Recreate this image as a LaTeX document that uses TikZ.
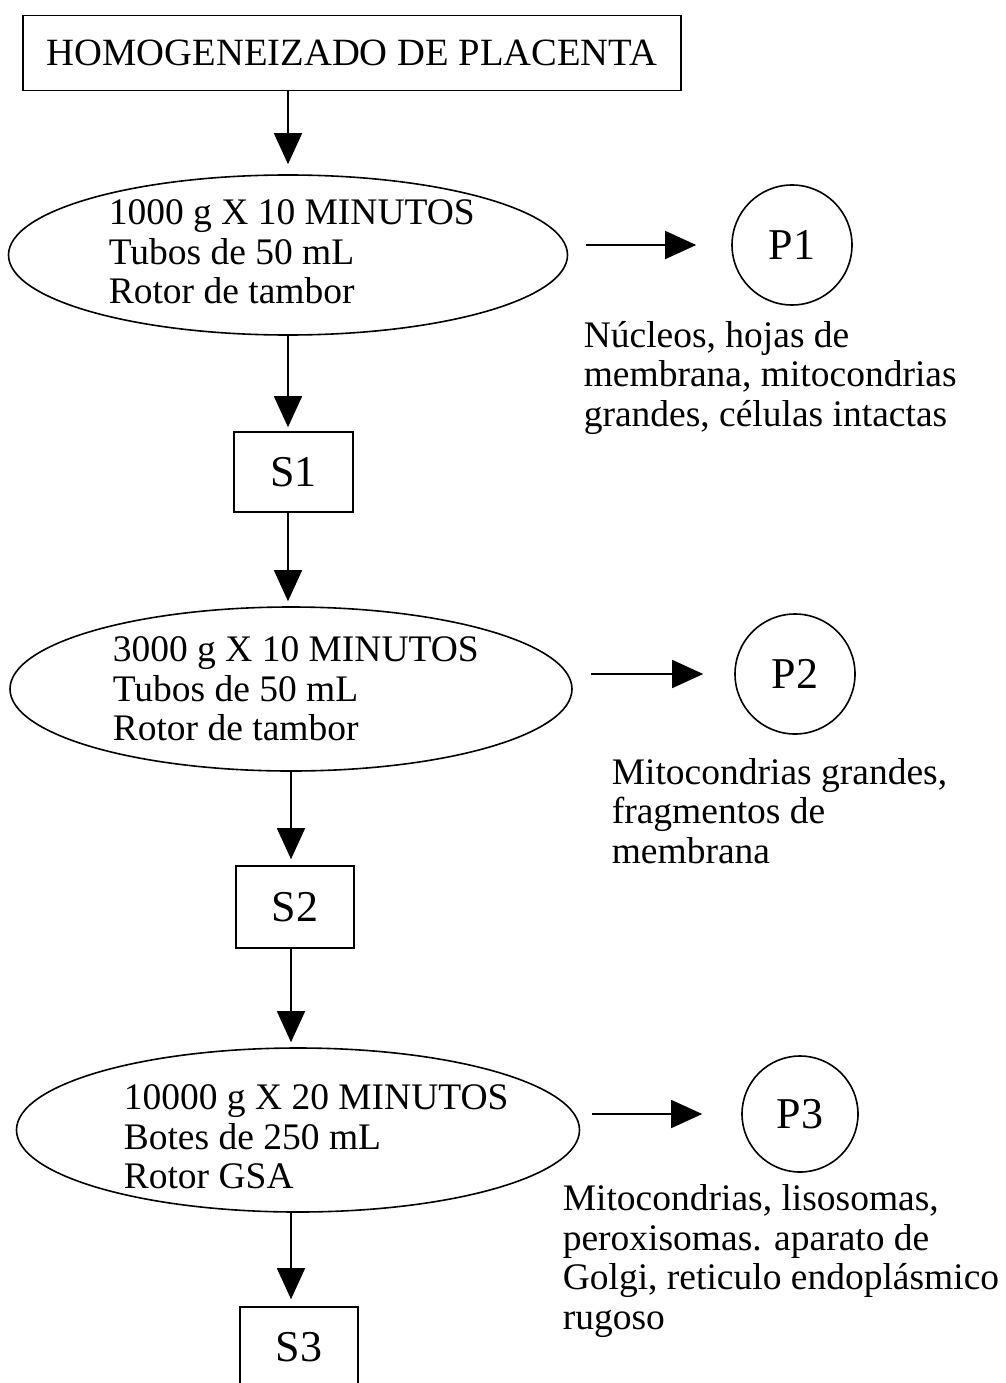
\documentclass[tikz,border=0pt]{standalone}
\usepackage{fontspec}
\setmainfont{Liberation Serif}
\usetikzlibrary{arrows.meta,shapes.geometric,calc}
\begin{document}
\begin{tikzpicture}[x=1pt,y=-1pt,
  line width=1.6pt,
  txt/.style={font=\fontsize{37.5}{39.5}\selectfont, inner sep=0pt},
  big/.style={font=\fontsize{44}{48}\selectfont},
  boxnode/.style={draw, rectangle, inner sep=0pt},
  spin/.style={draw, ellipse, inner sep=0pt},
  pcirc/.style={draw, circle, inner sep=0pt, minimum size=120pt, big},
  desc/.style={txt, align=left, anchor=base west},
  inell/.style={txt, align=left, anchor=west},
  arr/.style={-{Triangle[length=31pt,width=28pt]}},
]
\useasboundingbox (0,0) rectangle (1005,1383);

% top box
\node[boxnode, inner sep=0pt, font=\fontsize{38.6}{40}\selectfont, minimum width=658pt, minimum height=75pt] (top) at (352,53) {HOMOGENEIZADO DE PLACENTA};

% ellipses
\node[spin, minimum width=559pt, minimum height=160pt] (e1) at (288,255) {};
\node[inell] (t1) at (108,252) {1000 g X 10 MINUTOS\\Tubos de 50 mL\\Rotor de tambor};

\node[spin, minimum width=562pt, minimum height=164pt] (e2) at (291,689) {};
\node[inell] (t2) at (112,689) {3000 g X 10 MINUTOS\\Tubos de 50 mL\\Rotor de tambor};

\node[spin, minimum width=563pt, minimum height=164pt] (e3) at (298,1130) {};
\node[inell] (t3) at (123,1137) {10000 g X 20 MINUTOS\\Botes de 250 mL\\Rotor GSA};

% S boxes
\node[boxnode, big, minimum width=119pt, minimum height=80pt] (s1) at (293.5,472) {S1};
\node[boxnode, big, minimum width=118pt, minimum height=82pt] (s2) at (295,907) {S2};
\node[boxnode, big, minimum width=118pt, minimum height=80pt] (s3) at (299,1347) {S3};

% P circles
\node[pcirc] (p1) at (792,245) {P1};
\node[pcirc] (p2) at (795,674) {P2};
\node[pcirc, minimum size=116pt] (p3) at (800,1114) {P3};

% descriptions (anchored at the baseline of their last line)
\node[desc] (d1) at (583,426) {Núcleos, hojas de\\membrana, mitocondrias\\grandes, células intactas};
\node[desc] (d2) at (611,863) {Mitocondrias grandes,\\fragmentos de\\membrana};
\node[desc] (d3) at (562,1329) {Mitocondrias, lisosomas,\\peroxisomas. aparato de\\Golgi, reticulo endoplásmico\\rugoso};

% vertical arrows
\draw[arr, shorten >=10pt] (top.south -| e1.north) -- (e1.north);
\draw[arr, shorten >=4pt] (e1.south) -- (e1.south |- s1.north);
\draw[arr, shorten >=5pt] (s1.south -| e1.south) -- (e1.south |- e2.north);
\draw[arr, shorten >=6pt] (e2.south) -- (e2.south |- s2.north);
\draw[arr, shorten >=5pt] (s2.south -| e2.south) -- (e2.south |- e3.north);
\draw[arr, shorten >=7pt] (e3.south -| e2.south) -- (e2.south |- s3.north);

% horizontal arrows
\draw[arr, shorten <=18pt, shorten >=35pt] (e1.east |- p1.west) -- (p1.west);
\draw[arr, shorten <=18pt, shorten >=31pt] (e2.east |- p2.west) -- (p2.west);
\draw[arr, shorten <=12pt, shorten >=39pt] (e3.east |- p3.west) -- (p3.west);
\end{tikzpicture}
\end{document}
